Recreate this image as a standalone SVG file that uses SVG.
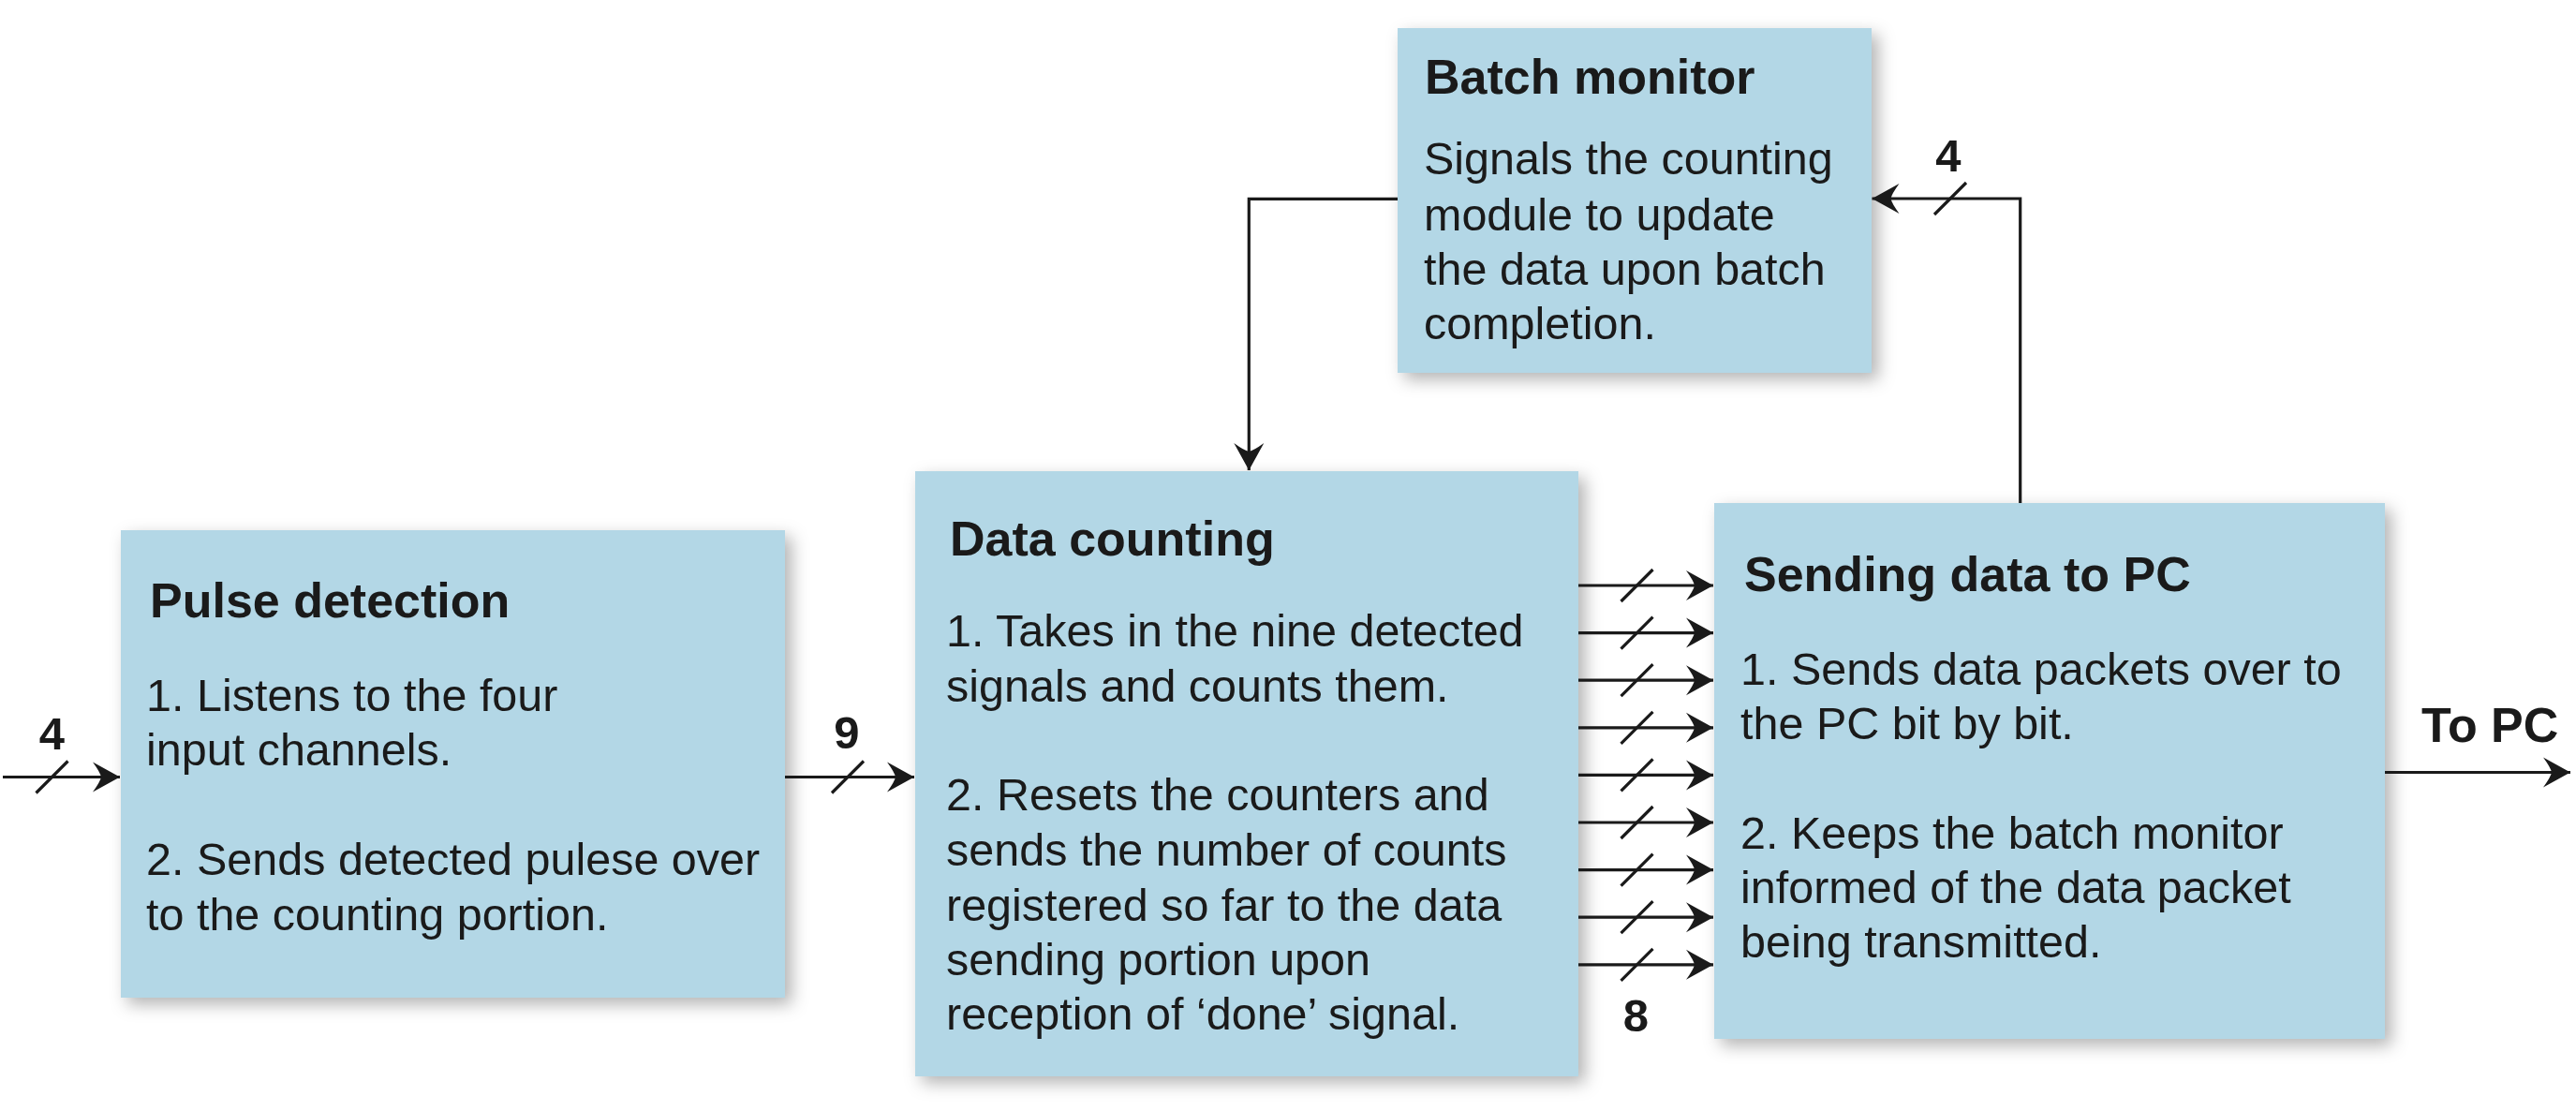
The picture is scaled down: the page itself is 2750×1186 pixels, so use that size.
<svg xmlns="http://www.w3.org/2000/svg" width="2750" height="1186" viewBox="0 0 2750 1186">
<defs>
<style>
.box{fill:#b3d7e6;filter:url(#sh)}
.t{font-family:"Liberation Sans",Arial,sans-serif;font-weight:bold;font-size:52px;fill:#1a1a1a}
.b{font-family:"Liberation Sans",Arial,sans-serif;font-size:48.5px;fill:#1a1a1a}
.lbl{font-family:"Liberation Sans",Arial,sans-serif;font-weight:bold;font-size:49px;fill:#1a1a1a;text-anchor:middle}
.w{fill:none;stroke:#1a1a1a;stroke-width:3.2}
.a{marker-end:url(#ah)}
</style>
<filter id="sh" x="-10%" y="-10%" width="125%" height="125%">
<feDropShadow dx="7" dy="7" stdDeviation="9" flood-color="#000" flood-opacity="0.3"/>
</filter>
<marker id="ah" markerUnits="userSpaceOnUse" markerWidth="40" markerHeight="40" viewBox="-32 -20 34 40" refX="0" refY="0" orient="auto" overflow="visible">
<path d="M0,0 L-29,-16 Q-21,-5 -20,0 Q-21,5 -29,16 Z" fill="#1a1a1a"/>
</marker>
</defs>
<rect width="2750" height="1186" fill="#ffffff"/>

<g id="pulse-detection">
<rect class="box" x="129" y="566" width="709" height="499"/>
<text class="t" x="160" y="659">Pulse detection</text>
<text class="b" x="156" y="759">1. Listens to the four</text>
<text class="b" x="156" y="817">input channels.</text>
<text class="b" x="156" y="934">2. Sends detected pulese over</text>
<text class="b" x="156" y="993">to the counting portion.</text>
</g>

<g id="data-counting">
<rect class="box" x="977" y="503" width="708" height="646"/>
<text class="t" x="1014" y="593">Data counting</text>
<text class="b" x="1010" y="690">1. Takes in the nine detected</text>
<text class="b" x="1010" y="749">signals and counts them.</text>
<text class="b" x="1010" y="865">2. Resets the counters and</text>
<text class="b" x="1010" y="924">sends the number of counts</text>
<text class="b" x="1010" y="983">registered so far to the data</text>
<text class="b" x="1010" y="1041">sending portion upon</text>
<text class="b" x="1010" y="1099">reception of ‘done’ signal.</text>
</g>

<g id="batch-monitor">
<rect class="box" x="1492" y="30" width="506" height="368"/>
<text class="t" x="1521" y="100">Batch monitor</text>
<text class="b" x="1520" y="186">Signals the counting</text>
<text class="b" x="1520" y="246">module to update</text>
<text class="b" x="1520" y="304">the data upon batch</text>
<text class="b" x="1520" y="362">completion.</text>
</g>

<g id="sending-data">
<rect class="box" x="1830" y="537" width="716" height="572"/>
<text class="t" x="1862" y="631">Sending data to PC</text>
<text class="b" x="1858" y="731">1. Sends data packets over to</text>
<text class="b" x="1858" y="789">the PC bit by bit.</text>
<text class="b" x="1858" y="906">2. Keeps the batch monitor</text>
<text class="b" x="1858" y="964">informed of the data packet</text>
<text class="b" x="1858" y="1022">being transmitted.</text>
</g>

<g id="connectors">
<!-- input 4 -->
<line class="w a" x1="3" y1="829.5" x2="128" y2="829.5"/>
<line class="w" x1="38.5" y1="846.5" x2="72.5" y2="812.5"/>
<text class="lbl" x="55.5" y="800">4</text>
<!-- 9 -->
<line class="w a" x1="838" y1="829.5" x2="976" y2="829.5"/>
<line class="w" x1="888" y1="846.5" x2="922" y2="812.5"/>
<text class="lbl" x="904" y="799">9</text>
<!-- 9 parallel buses labeled 8 -->
<g>
<line class="w a" x1="1685" y1="625" x2="1829" y2="625"/>
<line class="w a" x1="1685" y1="675.6" x2="1829" y2="675.6"/>
<line class="w a" x1="1685" y1="726.2" x2="1829" y2="726.2"/>
<line class="w a" x1="1685" y1="776.8" x2="1829" y2="776.8"/>
<line class="w a" x1="1685" y1="827.4" x2="1829" y2="827.4"/>
<line class="w a" x1="1685" y1="878" x2="1829" y2="878"/>
<line class="w a" x1="1685" y1="928.6" x2="1829" y2="928.6"/>
<line class="w a" x1="1685" y1="979.2" x2="1829" y2="979.2"/>
<line class="w a" x1="1685" y1="1029.8" x2="1829" y2="1029.8"/>
<path class="w" d="M1730.5,642 L1764.5,608 M1730.5,692.6 L1764.5,658.6 M1730.5,743.2 L1764.5,709.2 M1730.5,793.8 L1764.5,759.8 M1730.5,844.4 L1764.5,810.4 M1730.5,895 L1764.5,861 M1730.5,945.6 L1764.5,911.6 M1730.5,996.2 L1764.5,962.2 M1730.5,1046.8 L1764.5,1012.8"/>
</g>
<text class="lbl" x="1746.5" y="1101">8</text>
<!-- to PC -->
<line class="w a" x1="2546" y1="824.5" x2="2744" y2="824.5"/>
<text class="t" x="2585" y="792">To PC</text>
<!-- sending -> batch monitor -->
<path class="w a" d="M2156.7,537 L2156.7,212 L1998.5,212"/>
<line class="w" x1="2065" y1="229" x2="2099" y2="195"/>
<text class="lbl" x="2080" y="183">4</text>
<!-- batch monitor -> data counting -->
<path class="w a" d="M1492,212.3 L1333.3,212.3 L1333.3,502"/>
</g>
</svg>
